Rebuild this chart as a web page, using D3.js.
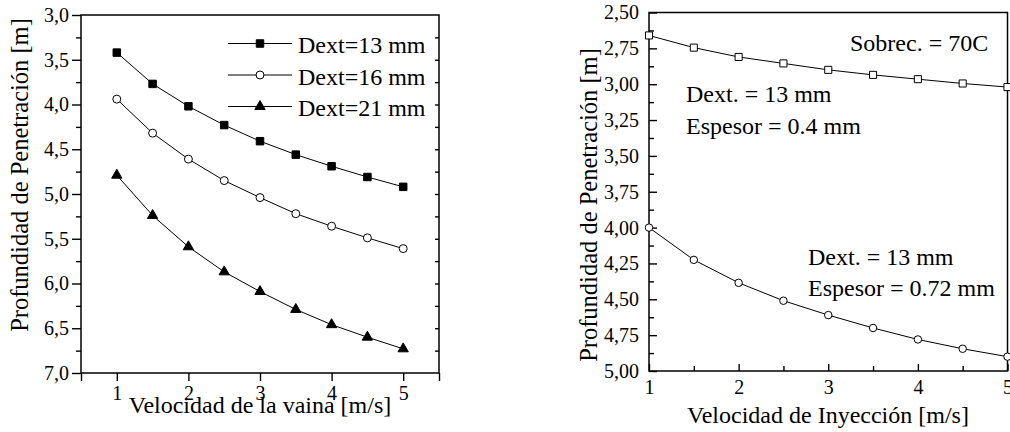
<html>
<head>
<meta charset="utf-8">
<script src="https://cdn.jsdelivr.net/npm/d3@7"></script>
</head>
<body style="margin:0">
<script>
// ---- data ----
var velVaina = [1, 1.5, 2, 2.5, 3, 3.5, 4, 4.5, 5];
var dext13 = [3.42, 3.77, 4.02, 4.23, 4.41, 4.56, 4.69, 4.81, 4.92];
var dext16 = [3.94, 4.32, 4.61, 4.85, 5.04, 5.22, 5.36, 5.49, 5.61];
var dext21 = [4.79, 5.24, 5.59, 5.87, 6.09, 6.29, 6.46, 6.60, 6.73];
var legendLabels = ["Dext=13 mm", "Dext=16 mm", "Dext=21 mm"];

var velIny = [1, 1.5, 2, 2.5, 3, 3.5, 4, 4.5, 5];
var esp04 = [2.66, 2.745, 2.81, 2.855, 2.90, 2.935, 2.965, 2.995, 3.02];
var esp072 = [4.00, 4.225, 4.385, 4.51, 4.61, 4.70, 4.78, 4.845, 4.90];

var leftXTicks = [1, 2, 3, 4, 5];
var leftYTicks = [3.0, 3.5, 4.0, 4.5, 5.0, 5.5, 6.0, 6.5, 7.0];
var rightXTicks = [1, 2, 3, 4, 5];
var rightYTicks = [2.5, 2.75, 3.0, 3.25, 3.5, 3.75, 4.0, 4.25, 4.5, 4.75, 5.0];

var svg = d3.select("body").append("svg")
  .attr("width", 1010).attr("height", 432);

var fmt1 = function(d){ return d3.format(".1f")(d).replace(".", ","); };
var fmt2 = function(d){ return d3.format(".2f")(d).replace(".", ","); };

function cleanAxis(g, fs){
  g.attr("font-family", null).attr("font-size", null);
  g.select(".domain").remove();
  g.selectAll("line").attr("stroke", "#000").attr("stroke-width", 1.4);
  g.selectAll("text").attr("font-size", fs).attr("fill", "#000");
}

// ================= left panel =================
var xL = d3.scaleLinear().domain([0.5, 5.5]).range([81, 439]);
var yL = d3.scaleLinear().domain([3, 7]).range([15, 373]);

// y ticks outside
svg.append("g").attr("transform", "translate(81,0)")
  .call(d3.axisLeft(yL).tickValues(d3.range(3.25, 7, 0.5)).tickSize(5).tickFormat(""))
  .call(cleanAxis, 20);
svg.append("g").attr("transform", "translate(81,0)")
  .call(d3.axisLeft(yL).tickValues(leftYTicks).tickSize(9).tickPadding(3).tickFormat(fmt1))
  .call(cleanAxis, 20);
// small inner ticks on the right frame
svg.append("g").attr("transform", "translate(439,0)")
  .call(d3.axisRight(yL).tickValues(d3.range(3.25, 7, 0.25)).tickSize(-4).tickFormat(""))
  .call(cleanAxis, 20);
// x ticks outside
svg.append("g").attr("transform", "translate(0,373)")
  .call(d3.axisBottom(xL).tickValues([0.5, 5.5]).tickSize(8).tickFormat(""))
  .call(cleanAxis, 20);
svg.append("g").attr("transform", "translate(0,373)")
  .call(d3.axisBottom(xL).tickValues(leftXTicks).tickSize(8).tickPadding(4.5).tickFormat(d3.format("d")))
  .call(cleanAxis, 20);

svg.append("rect")
  .attr("x", xL(0.5)).attr("y", yL(3))
  .attr("width", xL(5.5) - xL(0.5)).attr("height", yL(7) - yL(3))
  .attr("fill", "none").attr("stroke", "#000").attr("stroke-width", 1.5);

var leftSeries = [
  {vals: dext13, type: d3.symbolSquare, size: 56, fill: "#000"},
  {vals: dext16, type: d3.symbolCircle, size: 50, fill: "#fff"},
  {vals: dext21, type: d3.symbolTriangle, size: 46, fill: "#000"}
];

var lineL = d3.line().x(function(d){ return xL(d[0]); }).y(function(d){ return yL(d[1]); });

leftSeries.forEach(function(s){
  var pts = velVaina.map(function(v, i){ return [v, s.vals[i]]; });
  svg.append("path").datum(pts)
    .attr("d", lineL).attr("fill", "none").attr("stroke", "#000").attr("stroke-width", 1);
  svg.selectAll(null).data(pts).enter().append("path")
    .attr("d", d3.symbol().type(s.type).size(s.size))
    .attr("transform", function(d){ return "translate(" + xL(d[0]) + "," + yL(d[1]) + ")"; })
    .attr("fill", s.fill).attr("stroke", "#000").attr("stroke-width", 1);
});

// legend
var leg = svg.selectAll(".leg").data(leftSeries).enter().append("g")
  .attr("class", "leg")
  .attr("transform", function(d, i){ return "translate(0," + (43.5 + i * 31.5) + ")"; });
leg.append("line").attr("x1", 228).attr("x2", 292).attr("y1", 0).attr("y2", 0)
  .attr("stroke", "#000").attr("stroke-width", 1);
leg.append("path")
  .attr("d", function(d){ return d3.symbol().type(d.type).size(d.size)(); })
  .attr("transform", "translate(260,0)")
  .attr("fill", function(d){ return d.fill; }).attr("stroke", "#000").attr("stroke-width", 1);
leg.append("text").attr("x", 298).attr("y", 9.8).attr("font-size", 24)
  .text(function(d, i){ return legendLabels[i]; });

svg.append("text").attr("x", 260).attr("y", 413).attr("text-anchor", "middle")
  .attr("font-size", 24).text("Velocidad de la vaina [m/s]");
svg.append("text").attr("transform", "translate(28,175) rotate(-90)")
  .attr("text-anchor", "middle").attr("font-size", 24.5).text("Profundidad de Penetración [m]");

// ================= right panel =================
var xR = d3.scaleLinear().domain([1, 5]).range([649, 1007.5]);
var yR = d3.scaleLinear().domain([2.5, 5]).range([12.5, 371]);

svg.append("g").attr("transform", "translate(649,0)")
  .call(d3.axisLeft(yR).tickValues(d3.range(2.625, 5, 0.25)).tickSize(-5).tickFormat(""))
  .call(cleanAxis, 20);
svg.append("g").attr("transform", "translate(649,0)")
  .call(d3.axisLeft(yR).tickValues(rightYTicks).tickSize(-8).tickPadding(10).tickFormat(fmt2))
  .call(cleanAxis, 20);
svg.append("g").attr("transform", "translate(0,371)")
  .call(d3.axisBottom(xR).tickValues(d3.range(1.5, 5, 1)).tickSize(-5).tickFormat(""))
  .call(cleanAxis, 20);
svg.append("g").attr("transform", "translate(0,371)")
  .call(d3.axisBottom(xR).tickValues(rightXTicks).tickSize(-7).tickPadding(9).tickFormat(d3.format("d")))
  .call(cleanAxis, 20);

svg.append("rect")
  .attr("x", xR(1)).attr("y", yR(2.5))
  .attr("width", xR(5) - xR(1)).attr("height", yR(5) - yR(2.5))
  .attr("fill", "none").attr("stroke", "#000").attr("stroke-width", 1.5);

var rightSeries = [
  {vals: esp04, type: d3.symbolSquare, size: 50},
  {vals: esp072, type: d3.symbolCircle, size: 44}
];
var lineR = d3.line().x(function(d){ return xR(d[0]); }).y(function(d){ return yR(d[1]); });

rightSeries.forEach(function(s){
  var pts = velIny.map(function(v, i){ return [v, s.vals[i]]; });
  svg.append("path").datum(pts)
    .attr("d", lineR).attr("fill", "none").attr("stroke", "#000").attr("stroke-width", 1);
  svg.selectAll(null).data(pts).enter().append("path")
    .attr("d", d3.symbol().type(s.type).size(s.size))
    .attr("transform", function(d){ return "translate(" + xR(d[0]) + "," + yR(d[1]) + ")"; })
    .attr("fill", "#fff").attr("stroke", "#000").attr("stroke-width", 1);
});

var notes = [
  {x: 850, y: 50.5, t: "Sobrec. = 70C"},
  {x: 686, y: 102, t: "Dext. = 13 mm"},
  {x: 686, y: 134, t: "Espesor = 0.4 mm"},
  {x: 808, y: 265, t: "Dext. = 13 mm"},
  {x: 808, y: 296, t: "Espesor = 0.72 mm"}
];
svg.selectAll(".note").data(notes).enter().append("text")
  .attr("class", "note").attr("x", function(d){ return d.x; }).attr("y", function(d){ return d.y; })
  .attr("font-size", 24).text(function(d){ return d.t; });

svg.append("text").attr("x", 828).attr("y", 423).attr("text-anchor", "middle")
  .attr("font-size", 24).text("Velocidad de Inyección [m/s]");
svg.append("text").attr("transform", "translate(597,205) rotate(-90)")
  .attr("text-anchor", "middle").attr("font-size", 24.5).text("Profundidad de Penetración [m]");

svg.selectAll("text").attr("font-family", "Liberation Serif").style("font-family", "Liberation Serif");
</script>
</body>
</html>
